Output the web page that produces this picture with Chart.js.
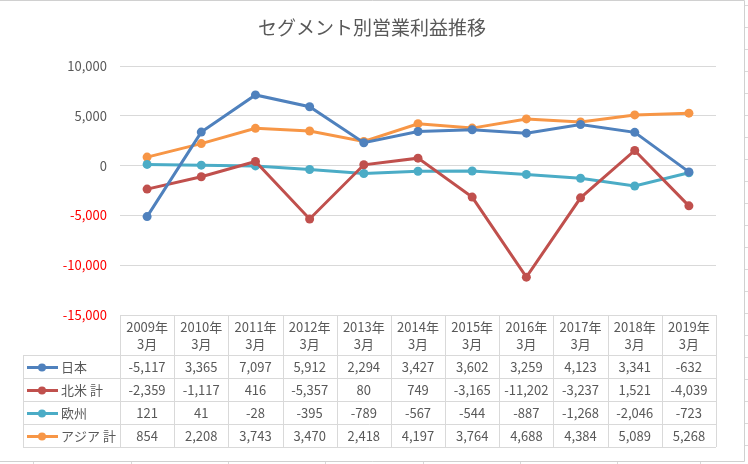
<!DOCTYPE html>
<html>
<head>
<meta charset="utf-8">
<script src="https://cdn.jsdelivr.net/npm/chart.js@4"></script>
<style>
  html, body { margin: 0; padding: 0; background: #fff; }
  #wrap { width: 748px; height: 464px; position: relative; }
</style>
</head>
<body>
<div id="wrap"><canvas id="chart" width="748" height="464"></canvas></div>
<script>
// 決算期
const categories = [
  ['2009年', '3月'], ['2010年', '3月'], ['2011年', '3月'], ['2012年', '3月'],
  ['2013年', '3月'], ['2014年', '3月'], ['2015年', '3月'], ['2016年', '3月'],
  ['2017年', '3月'], ['2018年', '3月'], ['2019年', '3月']
];
// セグメント別営業利益
const japan   = [-5117, 3365, 7097, 5912, 2294, 3427, 3602, 3259, 4123, 3341, -632];
const northAm = [-2359, -1117, 416, -5357, 80, 749, -3165, -11202, -3237, 1521, -4039];
const europe  = [121, 41, -28, -395, -789, -567, -544, -887, -1268, -2046, -723];
const asia    = [854, 2208, 3743, 3470, 2418, 4197, 3764, 4688, 4384, 5089, 5268];
const yTicks  = [10000, 5000, 0, -5000, -10000, -15000];

const FONT = '"Noto Sans CJK JP", "Noto Sans", sans-serif';
const TEXT = '#595959';
const LINE = '#D9D9D9';

const series = [
  { label: '日本', data: japan, color: '#4F81BD' },
  { label: '北米 計', data: northAm, color: '#C0504D' },
  { label: '欧州', data: europe, color: '#4BACC6' },
  { label: 'アジア 計', data: asia, color: '#F79646' }
];

const fmt = v => v.toLocaleString('en-US');

// シート背景とグラフ枠
const sheetPlugin = {
  id: 'sheet',
  beforeDraw(chart) {
    const ctx = chart.ctx;
    ctx.save();
    ctx.fillStyle = '#fff';
    ctx.fillRect(0, 0, chart.width, chart.height);
    ctx.strokeStyle = LINE;
    ctx.lineWidth = 1;
    ctx.beginPath();
    for (let y = 5; y < 464; y += 22) {
      ctx.moveTo(744, y + 0.5); ctx.lineTo(748, y + 0.5);
    }
    [33, 131, 228, 325, 423, 520, 617, 700].forEach(x => {
      ctx.moveTo(x + 0.5, 461); ctx.lineTo(x + 0.5, 464);
    });
    ctx.stroke();
    ctx.strokeStyle = '#D0D0D0';
    ctx.beginPath();
    ctx.moveTo(0, 0.5); ctx.lineTo(744.5, 0.5);
    ctx.lineTo(744.5, 461.5); ctx.lineTo(0, 461.5);
    ctx.stroke();
    // タイトル
    ctx.fillStyle = TEXT;
    ctx.font = '19px ' + FONT;
    ctx.textAlign = 'center';
    ctx.textBaseline = 'middle';
    ctx.fillText('セグメント別営業利益推移', 372, 28);
    ctx.restore();
  }
};

// データテーブル
const tablePlugin = {
  id: 'dataTable',
  afterDraw(chart) {
    const ctx = chart.ctx;
    const xs = chart.scales.x;
    const area = chart.chartArea;
    const colW = (area.right - area.left) / categories.length;
    const top = area.bottom;
    const headH = 40, rowH = 23;
    const tableLeft = 23;
    const bottom = top + headH + rowH * series.length;
    ctx.save();
    ctx.strokeStyle = LINE;
    ctx.lineWidth = 1;
    ctx.beginPath();
    // 横線
    ctx.moveTo(area.left, top + 0.5); ctx.lineTo(area.right, top + 0.5);
    for (let r = 0; r <= series.length; r++) {
      const y = Math.round(top + headH + r * rowH) + 0.5;
      ctx.moveTo(tableLeft, y); ctx.lineTo(area.right, y);
    }
    // 縦線
    ctx.moveTo(tableLeft + 0.5, top + headH); ctx.lineTo(tableLeft + 0.5, bottom);
    for (let c = 0; c <= categories.length; c++) {
      const x = Math.round(area.left + c * colW) + 0.5;
      ctx.moveTo(x, top); ctx.lineTo(x, bottom);
    }
    ctx.stroke();

    ctx.fillStyle = TEXT;
    ctx.font = '13px ' + FONT;
    ctx.textAlign = 'center';
    ctx.textBaseline = 'middle';
    categories.forEach((lines, i) => {
      const x = xs.getPixelForValue(i);
      ctx.fillText(lines[0], x, top + 12);
      ctx.fillText(lines[1], x, top + 29);
    });
    series.forEach((s, r) => {
      const y = top + headH + r * rowH + rowH / 2 + 1;
      // 凡例キー
      ctx.strokeStyle = s.color;
      ctx.lineWidth = 3;
      ctx.beginPath();
      ctx.moveTo(27, y); ctx.lineTo(58, y);
      ctx.stroke();
      ctx.fillStyle = s.color;
      ctx.beginPath();
      ctx.arc(42, y, 4, 0, Math.PI * 2);
      ctx.fill();
      ctx.fillStyle = TEXT;
      ctx.textAlign = 'left';
      ctx.fillText(s.label, 61, y);
      ctx.textAlign = 'center';
      s.data.forEach((v, i) => {
        ctx.fillText(fmt(v), xs.getPixelForValue(i), y);
      });
    });
    ctx.restore();
  }
};

new Chart(document.getElementById('chart'), {
  type: 'line',
  data: {
    labels: categories,
    datasets: series.map(s => ({
      label: s.label,
      data: s.data,
      borderColor: s.color,
      backgroundColor: s.color,
      borderWidth: 3,
      pointRadius: 4.5,
      pointBorderWidth: 0,
      tension: 0
    }))
  },
  options: {
    responsive: false,
    animation: false,
    events: [],
    layout: { padding: { top: 66, right: 32, bottom: 149, left: 0 } },
    plugins: { legend: { display: false }, tooltip: { enabled: false } },
    scales: {
      x: { display: false, offset: true },
      y: {
        min: -15000,
        max: 10000,
        afterFit: s => { s.width = 120; },
        afterBuildTicks: s => { s.ticks = yTicks.map(v => ({ value: v })); },
        border: { display: false },
        grid: { color: LINE, drawTicks: false },
        ticks: {
          padding: 13,
          font: { family: FONT, size: 13 },
          color: c => (c.tick.value < 0 ? '#FF0000' : TEXT),
          callback: v => fmt(v)
        }
      }
    }
  },
  plugins: [sheetPlugin, tablePlugin]
});
</script>
</body>
</html>
